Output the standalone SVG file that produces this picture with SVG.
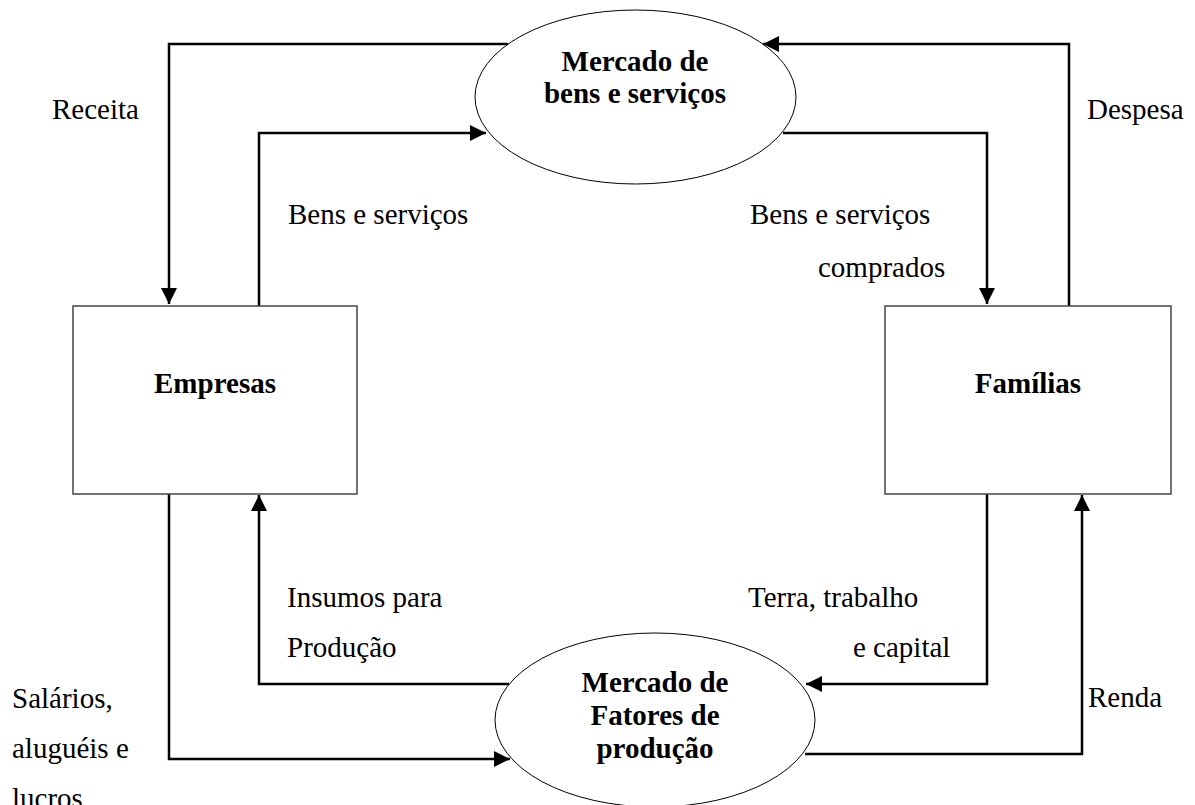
<svg xmlns="http://www.w3.org/2000/svg" width="1195" height="805" viewBox="0 0 1195 805">
<defs>
<style>
.lbl{font-family:"Liberation Serif","Times New Roman",serif;font-size:29px;fill:#000}
.bold{font-weight:bold}
.box{fill:#fff;stroke:#444;stroke-width:1.5}
.ell{fill:#fff;stroke:#000;stroke-width:1}
.con{fill:none;stroke:#000;stroke-width:2.5}
</style>
<marker id="arr" markerUnits="userSpaceOnUse" markerWidth="17" markerHeight="17" refX="16" refY="8" orient="auto">
<path d="M0,0 L16,8 L0,16 z" fill="#000"/>
</marker>
</defs>
<rect width="1195" height="805" fill="#fff"/>
<g id="connectors">
<path class="con" d="M508,44 H169 V304" marker-end="url(#arr)"/>
<path class="con" d="M259,306 V133 H486" marker-end="url(#arr)"/>
<path class="con" d="M1069,306 V44 H763" marker-end="url(#arr)"/>
<path class="con" d="M783,133 H987 V304" marker-end="url(#arr)"/>
<path class="con" d="M509,684 H259 V495" marker-end="url(#arr)"/>
<path class="con" d="M169,494 V759 H510" marker-end="url(#arr)"/>
<path class="con" d="M987,494 V684 H806" marker-end="url(#arr)"/>
<path class="con" d="M805,754 H1082 V495" marker-end="url(#arr)"/>
</g>
<g id="mercado-bens">
<ellipse class="ell" cx="635.5" cy="97" rx="160.5" ry="87"/>
<text class="lbl bold" x="635" y="71" text-anchor="middle">Mercado de</text>
<text class="lbl bold" x="635" y="103" text-anchor="middle">bens e serviços</text>
</g>
<g id="mercado-fatores">
<ellipse class="ell" cx="655" cy="720" rx="160" ry="87"/>
<text class="lbl bold" x="655" y="692" text-anchor="middle">Mercado de</text>
<text class="lbl bold" x="655" y="725" text-anchor="middle">Fatores de</text>
<text class="lbl bold" x="655" y="758" text-anchor="middle">produção</text>
</g>
<g id="empresas">
<rect class="box" x="73" y="306" width="284" height="188"/>
<text class="lbl bold" x="215" y="393" text-anchor="middle">Empresas</text>
</g>
<g id="familias">
<rect class="box" x="885" y="306" width="286" height="188"/>
<text class="lbl bold" x="1028" y="393" text-anchor="middle">Famílias</text>
</g>
<g id="labels">
<text class="lbl" x="52" y="119">Receita</text>
<text class="lbl" x="1087" y="119">Despesa</text>
<text class="lbl" x="288" y="224">Bens e serviços</text>
<text class="lbl" x="750" y="224">Bens e serviços</text>
<text class="lbl" x="818" y="277">comprados</text>
<text class="lbl" x="287" y="607">Insumos para</text>
<text class="lbl" x="287" y="657">Produção</text>
<text class="lbl" x="748" y="607">Terra, trabalho</text>
<text class="lbl" x="853" y="657">e capital</text>
<text class="lbl" x="12" y="708">Salários,</text>
<text class="lbl" x="12" y="758">aluguéis e</text>
<text class="lbl" x="12" y="808">lucros</text>
<text class="lbl" x="1088" y="707">Renda</text>
</g>
</svg>
